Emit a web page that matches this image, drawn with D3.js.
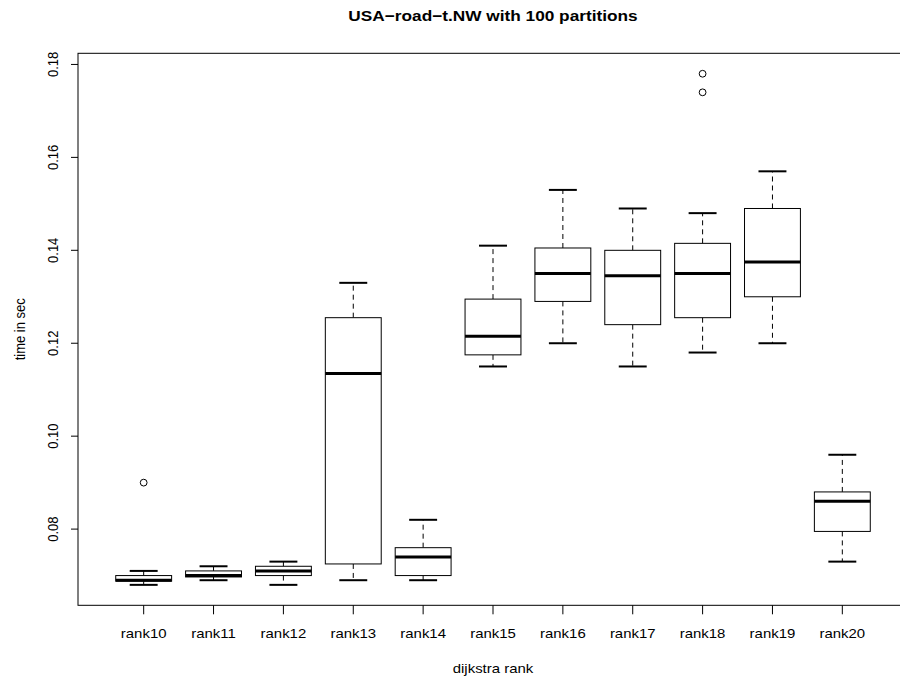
<!DOCTYPE html>
<html>
<head>
<meta charset="utf-8">
<script src="https://cdn.jsdelivr.net/npm/d3@7"></script>
<style>
  body { margin: 0; background: #fff; }
  svg { display: block; font-family: "Liberation Sans", Arial, sans-serif; }
</style>
</head>
<body>
<svg id="chart" width="900" height="681"></svg>
<script>
// boxplot stats (lower whisker, q1, median, q3, upper whisker)
var ranks = ["rank10", "rank11", "rank12", "rank13", "rank14", "rank15", "rank16", "rank17", "rank18", "rank19", "rank20"];
var lowWhisker = [0.068, 0.069, 0.068, 0.069, 0.069, 0.115, 0.120, 0.115, 0.118, 0.120, 0.073];
var q1 = [0.0688, 0.0697, 0.0700, 0.0725, 0.0700, 0.1175, 0.1290, 0.1240, 0.1255, 0.1300, 0.0795];
var median = [0.0690, 0.0700, 0.0710, 0.1135, 0.0740, 0.1215, 0.1350, 0.1345, 0.1350, 0.1375, 0.0860];
var q3 = [0.0700, 0.0710, 0.0720, 0.1255, 0.0760, 0.1295, 0.1405, 0.1400, 0.1415, 0.1490, 0.0880];
var highWhisker = [0.071, 0.072, 0.073, 0.133, 0.082, 0.141, 0.153, 0.149, 0.148, 0.157, 0.096];
var outliers = [[0.090], [], [], [], [], [], [], [], [0.174, 0.178], [], []];
var yTicks = [0.08, 0.10, 0.12, 0.14, 0.16, 0.18];

var svg = d3.select("#chart");
var sx = 1.15; // text in the picture is a bit wide

var plotLeft = 78, plotTop = 53.3, plotBottom = 605.3, plotW = 830;

// R style: pad the data range by 4% each side
var allVals = lowWhisker.concat(highWhisker, d3.merge(outliers));
var lo = d3.min(allVals), hi = d3.max(allVals);
var pad = (hi - lo) * 0.04;
var y = d3.scaleLinear().domain([lo - pad, hi + pad]).range([plotBottom, plotTop]);
var n = ranks.length;
var xpad = n * 0.04;
var x = d3.scaleLinear().domain([0.5 - xpad, n + 0.5 + xpad]).range([plotLeft, plotLeft + plotW]);
var unit = x(2) - x(1);

// plot frame
svg.append("rect")
  .attr("x", plotLeft).attr("y", plotTop)
  .attr("width", plotW).attr("height", plotBottom - plotTop)
  .attr("fill", "none").attr("stroke", "#000").attr("stroke-width", 1);

// boxes
var g = svg.append("g");
ranks.forEach(function(r, i) {
  var cx = x(i + 1);
  var bw = unit * 0.8, sw = unit * 0.4;
  // whiskers
  g.append("line").attr("x1", cx).attr("x2", cx).attr("y1", y(q3[i])).attr("y2", y(highWhisker[i]))
    .attr("stroke", "#000").attr("stroke-dasharray", "5,4");
  g.append("line").attr("x1", cx).attr("x2", cx).attr("y1", y(q1[i])).attr("y2", y(lowWhisker[i]))
    .attr("stroke", "#000").attr("stroke-dasharray", "5,4");
  // staples
  g.append("line").attr("x1", cx - sw / 2).attr("x2", cx + sw / 2).attr("y1", y(highWhisker[i])).attr("y2", y(highWhisker[i]))
    .attr("stroke", "#000").attr("stroke-width", 2);
  g.append("line").attr("x1", cx - sw / 2).attr("x2", cx + sw / 2).attr("y1", y(lowWhisker[i])).attr("y2", y(lowWhisker[i]))
    .attr("stroke", "#000").attr("stroke-width", 2);
  // box
  g.append("rect").attr("x", cx - bw / 2).attr("y", y(q3[i]))
    .attr("width", bw).attr("height", y(q1[i]) - y(q3[i]))
    .attr("fill", "#fff").attr("stroke", "#000").attr("stroke-width", 1);
  // median
  g.append("line").attr("x1", cx - bw / 2).attr("x2", cx + bw / 2).attr("y1", y(median[i])).attr("y2", y(median[i]))
    .attr("stroke", "#000").attr("stroke-width", 3);
  // outliers
  outliers[i].forEach(function(v) {
    g.append("circle").attr("cx", cx).attr("cy", y(v)).attr("r", 3.4)
      .attr("fill", "none").attr("stroke", "#000").attr("stroke-width", 1);
  });
});

// x axis (ticks + labels)
var xa = svg.append("g");
ranks.forEach(function(r, i) {
  var cx = x(i + 1);
  xa.append("line").attr("x1", cx).attr("x2", cx).attr("y1", plotBottom).attr("y2", plotBottom + 9).attr("stroke", "#000");
  xa.append("text").attr("transform", "translate(" + cx + ",638) scale(" + sx + ",1)")
    .attr("text-anchor", "middle").attr("font-size", 13).text(r);
});

// y axis
var ya = svg.append("g");
yTicks.forEach(function(t) {
  ya.append("line").attr("x1", plotLeft - 7).attr("x2", plotLeft).attr("y1", y(t)).attr("y2", y(t)).attr("stroke", "#000");
  ya.append("text").attr("transform", "translate(58," + y(t) + ") scale(" + sx + ",1) rotate(-90)")
    .attr("text-anchor", "middle").attr("font-size", 13).text(t.toFixed(2));
});

// titles
var midX = x((n + 1) / 2);
svg.append("text").attr("transform", "translate(" + midX + ",21) scale(" + sx + ",1)")
  .attr("text-anchor", "middle").attr("font-size", 15).attr("font-weight", "bold")
  .text("USA\u2212road\u2212t.NW with 100 partitions");
svg.append("text").attr("transform", "translate(" + midX + ",673) scale(" + sx + ",1)")
  .attr("text-anchor", "middle").attr("font-size", 13).text("dijkstra rank");
svg.append("text").attr("transform", "translate(25," + ((plotTop + plotBottom) / 2) + ") scale(" + sx + ",1) rotate(-90)")
  .attr("text-anchor", "middle").attr("font-size", 13).text("time in sec");
</script>
</body>
</html>
